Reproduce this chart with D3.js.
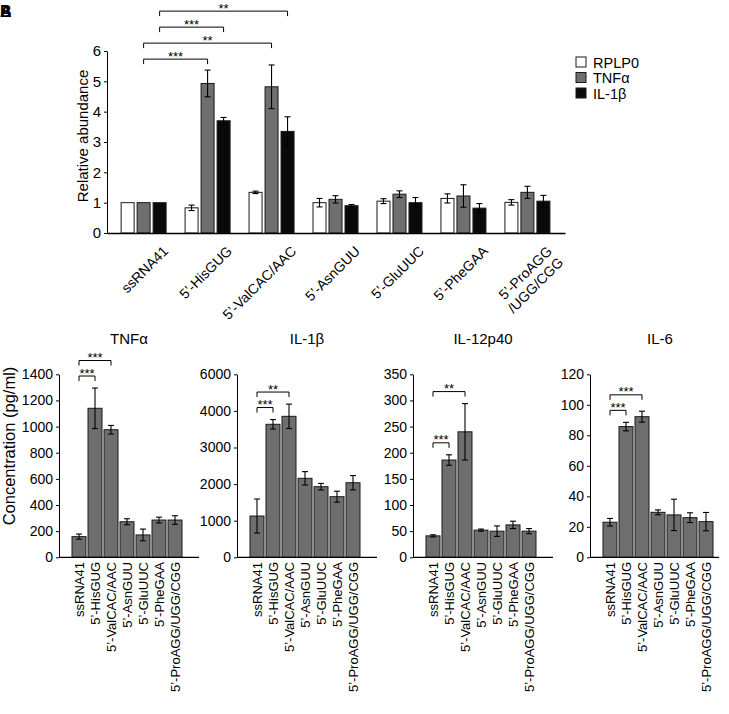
<!DOCTYPE html>
<html><head><meta charset="utf-8">
<script src="https://cdn.jsdelivr.net/npm/d3@7"></script>
<style>
body{margin:0;background:#fff}
svg{display:block}
text{font-family:"Liberation Sans",Arial,Helvetica,sans-serif;fill:#000}
</style>
</head><body><svg id="c" width="729" height="714"></svg>
<script>
// ---------- DATA ----------
const categories = ["ssRNA41","5’-HisGUG","5’-ValCAC/AAC","5’-AsnGUU","5’-GluUUC","5’-PheGAA","5’-ProAGG/UGG/CGG"];
const topLabelLines = [["ssRNA41"],["5’-HisGUG"],["5’-ValCAC/AAC"],["5’-AsnGUU"],["5’-GluUUC"],["5’-PheGAA"],["5’-ProAGG","/UGG/CGG"]];
const seriesNames = ["RPLP0","TNFα","IL-1β"];
const rplp0Values = [1, 0.83, 1.34, 1.0, 1.05, 1.14, 1.01];
const rplp0Errors = [0, 0.09, 0.04, 0.14, 0.08, 0.15, 0.09];
const tnfValues   = [1, 4.93, 4.82, 1.11, 1.28, 1.22, 1.34];
const tnfErrors   = [0, 0.44, 0.72, 0.12, 0.11, 0.37, 0.2];
const il1bValues  = [1, 3.70, 3.35, 0.90, 1.0, 0.82, 1.05];
const il1bErrors  = [0, 0.11, 0.48, 0.04, 0.17, 0.15, 0.19];
const topTicks = [0,1,2,3,4,5,6];
const topYLabel = "Relative abundance";
const topBrackets = [
  {from:0, to:1, series:"TNFα", label:"***"},
  {from:0, to:2, series:"TNFα", label:"**"},
  {from:0, to:1, series:"IL-1β", label:"***"},
  {from:0, to:2, series:"IL-1β", label:"**"}
];

const panelTitles = ["TNFα","IL-1β","IL-12p40","IL-6"];
const tnfConc    = [158, 1140, 976, 272, 171, 285, 285];
const tnfConcErr = [20, 155, 33, 23, 45, 22, 33];
const il1bConc    = [1128, 3634, 3852, 2158, 1929, 1656, 2038];
const il1bConcErr = [465, 130, 333, 183, 90, 150, 195];
const il12Conc    = [41, 186, 240, 52, 50, 62, 50];
const il12ConcErr = [2, 10, 54, 2, 10, 7, 5];
const il6Conc    = [23, 85.7, 92.2, 29.5, 27.8, 26, 23.4];
const il6ConcErr = [2.5, 2.8, 3.6, 1.6, 10.3, 3.2, 6];
const tnfTicks  = [0,200,400,600,800,1000,1200,1400];
const il1bTicks = [0,1000,2000,3000,4000,5000];
const il1bTickLabels = ["0","1000","2000","3000","4000","6000"];
const il12Ticks = [0,50,100,150,200,250,300,350];
const il6Ticks  = [0,20,40,60,80,100,120];
const bottomYLabel = "Concentration (pg/ml)";
const tnfBrackets  = [{from:0,to:1,label:"***"},{from:0,to:2,label:"***"}];
const il1bBrackets = [{from:0,to:1,label:"***"},{from:0,to:2,label:"**"}];
const il12Brackets = [{from:0,to:1,label:"***"},{from:0,to:2,label:"**"}];
const il6Brackets  = [{from:0,to:1,label:"***"},{from:0,to:2,label:"***"}];
const panelLetters = ["A","B"];

// ---------- DRAW ----------
const svg = d3.select("#c");
const STROKE = "#1a1a1a";
const fills = ["#ffffff","#6f6f6f","#0a0a0a"];

// overlapping panel letters (as in source)
panelLetters.forEach(l => svg.append("text").attr("x",0).attr("y",17)
  .attr("font-size",16).attr("font-weight","bold").text(l));

function drawErr(g, cx, yS, v, e, cap){
  if(!e) return;
  g.append("line").attr("x1",cx).attr("x2",cx).attr("y1",yS(v+e)).attr("y2",yS(v-e))
    .attr("stroke","#000").attr("stroke-width",1.1);
  [v+e, v-e].forEach(t => g.append("line").attr("x1",cx-cap/2).attr("x2",cx+cap/2)
    .attr("y1",yS(t)).attr("y2",yS(t)).attr("stroke","#000").attr("stroke-width",1.1));
}
function drawBracket(g, xa, xb, y, label){
  g.append("path").attr("d",`M${xa},${y+5}V${y}H${xb}V${y+5}`)
    .attr("fill","none").attr("stroke","#000").attr("stroke-width",1);
  g.append("text").attr("x",(xa+xb)/2).attr("y",y+1.5).attr("text-anchor","middle")
    .attr("font-size",13).text(label);
}

// ---- top chart ----
(function(){
  const g = svg.append("g");
  const x = d3.scaleBand().domain(categories).range([107,565]).paddingInner(0).paddingOuter(0.08);
  const xi = d3.scaleBand().domain(seriesNames).range([7.5,55.5]).paddingInner(3/16).paddingOuter(3/32);
  const y = d3.scaleLinear().domain([0,6]).range([233,51]);
  const vals = [rplp0Values, tnfValues, il1bValues];
  const errs = [rplp0Errors, tnfErrors, il1bErrors];

  seriesNames.forEach((s,si) => {
    categories.forEach((c,ci) => {
      const v = vals[si][ci];
      g.append("rect").attr("x", x(c)+xi(s)).attr("y", y(v))
        .attr("width", xi.bandwidth()).attr("height", y(0)-y(v))
        .attr("fill", fills[si]).attr("stroke", STROKE).attr("stroke-width",1);
    });
  });
  seriesNames.forEach((s,si) => categories.forEach((c,ci) =>
    drawErr(g, x(c)+xi(s)+xi.bandwidth()/2, y, vals[si][ci], errs[si][ci], 6)));

  const ya = g.append("g").attr("transform","translate(107,0)")
    .call(d3.axisLeft(y).tickValues(topTicks).tickFormat(d3.format("d")).tickSize(3).tickSizeOuter(0).tickPadding(3));
  ya.selectAll("text").attr("font-size",15).attr("font-family",null);
  ya.select(".domain").attr("stroke","#000");
  const xa = g.append("g").attr("transform","translate(0,233)")
    .call(d3.axisBottom(x).tickSize(0).tickSizeOuter(0).tickFormat(""));
  xa.select(".domain").attr("stroke","#000").attr("stroke-width",1.3);

  categories.forEach((c,ci) => {
    const cx = x(c) + x.bandwidth()/2;
    const t = g.append("text").attr("text-anchor","end").attr("font-size",14)
      .attr("transform",`translate(${cx+25},252) rotate(-45)`);
    topLabelLines[ci].forEach((ln,li) => t.append("tspan").attr("x",0).attr("dy", li? 16 : 0).text(ln));
  });

  g.append("text").attr("transform","translate(88,136) rotate(-90)")
    .attr("text-anchor","middle").attr("font-size",15).text(topYLabel);

  // brackets (stacked above highest error bar)
  let prev = Infinity;
  topBrackets.forEach(b => {
    const si = seriesNames.indexOf(b.series);
    let top = Infinity;
    for(let i=b.from;i<=b.to;i++) top = Math.min(top, y(vals[si][i]+errs[si][i]));
    const yy = Math.min(top-11, prev-16);
    prev = yy;
    const xa_ = x(categories[b.from]) + xi(b.series) + xi.bandwidth()/2;
    const xb_ = x(categories[b.to]) + xi(b.series) + xi.bandwidth()/2;
    drawBracket(g, xa_, xb_, yy, b.label);
  });

  // legend
  const lg = g.append("g").attr("transform","translate(576,57)");
  seriesNames.forEach((s,si) => {
    lg.append("rect").attr("x",0).attr("y",si*15.5).attr("width",10).attr("height",10)
      .attr("fill",fills[si]).attr("stroke",STROKE).attr("stroke-width",1);
    lg.append("text").attr("x",17).attr("y",si*15.5+10.5).attr("font-size",14.5).text(s);
  });
})();

// ---- bottom panels ----
const panels = [
  {title:panelTitles[0], vals:tnfConc,  errs:tnfConcErr,  ticks:tnfTicks,  labels:tnfTicks.map(String),  max:1400, br:tnfBrackets},
  {title:panelTitles[1], vals:il1bConc, errs:il1bConcErr, ticks:il1bTicks, labels:il1bTickLabels,          max:5000, br:il1bBrackets},
  {title:panelTitles[2], vals:il12Conc, errs:il12ConcErr, ticks:il12Ticks, labels:il12Ticks.map(String), max:350,  br:il12Brackets},
  {title:panelTitles[3], vals:il6Conc,  errs:il6ConcErr,  ticks:il6Ticks,  labels:il6Ticks.map(String),  max:120,  br:il6Brackets}
];
const panelX0 = [59, 237, 413, 590];
const panelLen = [140, 140, 140, 129];
const BY0 = 557.3, BY1 = 374.3;

panels.forEach((p,pi) => {
  const x0 = panelX0[pi];
  const g = svg.append("g");
  const x = d3.scaleBand().domain(categories).range([x0+12, x0+124]).paddingInner(0.125).paddingOuter(0.0625);
  const y = d3.scaleLinear().domain([0,p.max]).range([BY0,BY1]);

  categories.forEach((c,ci) => {
    const v = p.vals[ci];
    g.append("rect").attr("x",x(c)).attr("y",y(v)).attr("width",x.bandwidth()).attr("height",y(0)-y(v))
      .attr("fill","#6e6e6e").attr("stroke",STROKE).attr("stroke-width",1);
  });
  categories.forEach((c,ci) => drawErr(g, x(c)+x.bandwidth()/2, y, p.vals[ci], p.errs[ci], 6));

  const ya = g.append("g").attr("transform",`translate(${x0},0)`)
    .call(d3.axisLeft(y).tickValues(p.ticks).tickFormat((d,i)=>p.labels[i]).tickSize(3).tickSizeOuter(0).tickPadding(3));
  ya.selectAll("text").attr("font-size",14).attr("font-family",null);
  ya.select(".domain").attr("stroke","#000");
  g.append("line").attr("x1",x0).attr("x2",x0+panelLen[pi]).attr("y1",BY0).attr("y2",BY0)
    .attr("stroke","#000").attr("stroke-width",1.3);

  categories.forEach(c => {
    g.append("text").attr("text-anchor","end").attr("font-size",13).attr("dy","0.35em")
      .attr("transform",`translate(${x(c)+x.bandwidth()/2},562) rotate(-90)`).text(c);
  });

  g.append("text").attr("x",x0+70).attr("y",343.5).attr("text-anchor","middle").attr("font-size",15).text(p.title);

  let prev = Infinity;
  p.br.forEach(b => {
    let top = Infinity;
    for(let i=b.from;i<=b.to;i++) top = Math.min(top, y(p.vals[i]+p.errs[i]));
    const yy = Math.min(top-12, prev-15.5);
    prev = yy;
    drawBracket(g, x(categories[b.from])+x.bandwidth()/2, x(categories[b.to])+x.bandwidth()/2, yy, b.label);
  });
});

svg.append("text").attr("transform","translate(15,446) rotate(-90)")
  .attr("text-anchor","middle").attr("font-size",16.5).text(bottomYLabel);
</script>
</body></html>
